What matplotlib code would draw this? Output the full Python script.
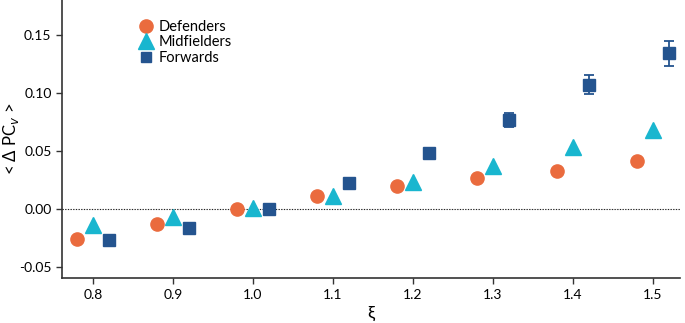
import matplotlib
matplotlib.use("Agg")
import matplotlib.pyplot as plt
import numpy as np
from matplotlib.lines import Line2D

plt.rcParams['font.family'] = ['Lato', 'DejaVu Sans']

xi = np.array([0.8, 0.9, 1.0, 1.1, 1.2, 1.3, 1.4, 1.5])

defenders = [-0.026, -0.013, 0.000, 0.011, 0.020, 0.027, 0.033, 0.041]
midfielders = [-0.014, -0.007, 0.001, 0.011, 0.023, 0.037, 0.053, 0.068]
forwards = [-0.027, -0.016, 0.000, 0.022, 0.048, 0.077, 0.107, 0.134]
forwards_err = [0.001, 0.001, 0.001, 0.001, 0.002, 0.006, 0.008, 0.011]

C_DEF = '#EA6B3E'
C_MID = '#19B6CF'
C_FWD = '#24548F'

fig = plt.figure(figsize=(6.85, 3.23), dpi=100)
ax = fig.add_axes([0.0905, 0.139, 0.902, 0.861])

ax.axhline(0, color='#222222', linestyle=(0, (1.2, 1.2)), linewidth=0.8, zorder=1)

ax.plot(xi - 0.02, defenders, linestyle='', marker='o', markersize=9.5,
        color=C_DEF, label='Defenders', zorder=3)
ax.plot(xi, midfielders, linestyle='', marker='^', markersize=11,
        color=C_MID, label='Midfielders', zorder=3)
ax.errorbar(xi + 0.02, forwards, yerr=forwards_err, linestyle='', marker='s',
            markersize=8.5, color=C_FWD, ecolor=C_FWD, elinewidth=1.3,
            capsize=3.5, capthick=1.3, label='Forwards', zorder=3)

ax.set_xlim(0.76125, 1.534)
ax.set_ylim(-0.0595, 0.18)
ax.set_xticks([0.8, 0.9, 1.0, 1.1, 1.2, 1.3, 1.4, 1.5])
ax.set_xticklabels(['0.8', '0.9', '1.0', '1.1', '1.2', '1.3', '1.4', '1.5'])
ax.set_yticks([-0.05, 0.0, 0.05, 0.10, 0.15])
ax.set_yticklabels(['-0.05', '0.00', '0.05', '0.10', '0.15'])

for s in ['top', 'right']:
    ax.spines[s].set_visible(False)
for s in ['left', 'bottom']:
    ax.spines[s].set_linewidth(1.2)
    ax.spines[s].set_color('#333333')
ax.tick_params(labelsize=10, length=4, width=1, color='#333333')

ax.set_xlabel('ξ', fontsize=13)
ax.set_ylabel(r'< Δ PC$_v$ >', fontsize=12)
ax.yaxis.set_label_coords(-0.067, 0.5)

leg_handles = [
    Line2D([], [], linestyle='', marker='o', markersize=9.5, color=C_DEF),
    Line2D([], [], linestyle='', marker='^', markersize=11, color=C_MID),
    Line2D([], [], linestyle='', marker='s', markersize=7.5, color=C_FWD),
]
ax.legend(leg_handles, ['Defenders', 'Midfielders', 'Forwards'],
          loc='upper left', bbox_to_anchor=(0.112, 0.95), frameon=False,
          fontsize=10.5, handletextpad=0.25, labelspacing=0.12,
          borderaxespad=0, handlelength=1.2)

fig.savefig('out.png', dpi=100)
